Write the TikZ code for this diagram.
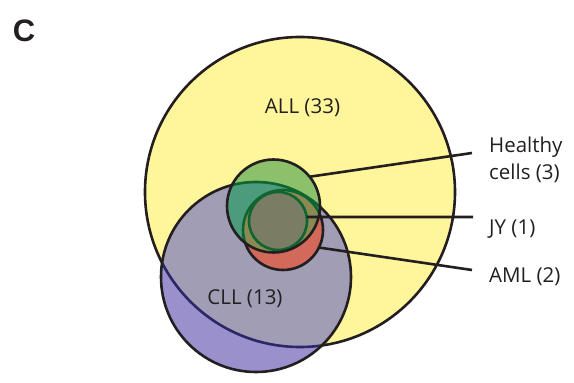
\documentclass[tikz,border=0pt]{standalone}
\usepackage{fontspec}
\setmainfont{Open Sans}
\newfontfamily\panelfont{Liberation Sans}

\definecolor{allyellow}{HTML}{FFF59A}
\definecolor{cllpurple}{HTML}{9A90CC}
\definecolor{cllgray}{HTML}{A09DB5}
\definecolor{cllnavy}{HTML}{2A2868}
\definecolor{amlred}{HTML}{D2695A}
\definecolor{healthygreen}{HTML}{8DC06A}
\definecolor{healthyteal}{HTML}{4C9B7D}
\definecolor{healthyolive}{HTML}{8A8A52}
\definecolor{jygray}{HTML}{7A7D63}
\definecolor{rimgreen}{HTML}{0E6530}
\definecolor{labelgray}{HTML}{231F20}

\begin{document}
\begin{tikzpicture}[x=1pt, y=1pt,
    ring/.style={circle, inner sep=0pt, outer sep=0pt, draw=labelgray, line width=2.6pt},
    lbl/.style={anchor=base west, inner sep=0pt, font=\fontsize{20.5}{27}\selectfont, text=labelgray, align=left},
    lead/.style={line width=2.6pt, draw=labelgray}]
    \useasboundingbox (0,0) rectangle (574,383);
    % ALL and CLL
    \node[ring, fill=allyellow, minimum size=310pt] (all) at (300,191) {};
    \fill[cllpurple] (256,106) circle (95);
    \begin{scope}
        \clip (256,106) circle (95);
        \fill[cllgray] (300,191) circle (155);
        \draw[cllnavy, line width=2.6pt] (300,191) circle (155);
    \end{scope}
    \node[ring, minimum size=190pt] (cll) at (256,106) {};
    % AML
    \node[ring, fill=amlred, minimum size=80pt] (aml) at (283,153) {};
    % healthy cells over the others
    \fill[healthygreen] (273.5,177) circle (46.5);
    \begin{scope}
        \clip (273.5,177) circle (46.5);
        \fill[healthyteal] (256,106) circle (95);
        \fill[healthyolive] (283,153) circle (40);
        \draw[rimgreen, line width=2.6pt] (256,106) circle (95);
        \draw[rimgreen, line width=2.6pt] (283,153) circle (40);
    \end{scope}
    \node[ring, draw=rimgreen, fill=jygray, minimum size=58pt] (jy) at (278,162) {};
    \node[ring, minimum size=93pt] (healthy) at (273.5,177) {};
    % labels
    \node[lbl, anchor=base] (alllbl) at (302.5,269) {ALL (33)};
    \node[lbl, anchor=base] (clllbl) at (245,78) {CLL (13)};
    \node[lbl] (healthylbl) at (489,203) {Healthy\\cells (3)};
    \node[lbl] (jylbl) at (489,148) {JY (1)};
    \node[lbl] (amllbl) at (489,100) {AML (2)};
    \node[font=\panelfont\bfseries\fontsize{31}{31}\selectfont, text=labelgray] (panel) at (24,352) {C};
    % leader lines
    \coordinate (healthyend) at (472,230);
    \coordinate (jyend) at (473,166);
    \coordinate (amlend) at (472,113);
    \draw[lead] (healthy.39) -- (healthyend);
    \draw[lead] (jy.8) -- (jyend);
    \draw[lead] (aml.-26) -- (amlend);
\end{tikzpicture}
\end{document}
